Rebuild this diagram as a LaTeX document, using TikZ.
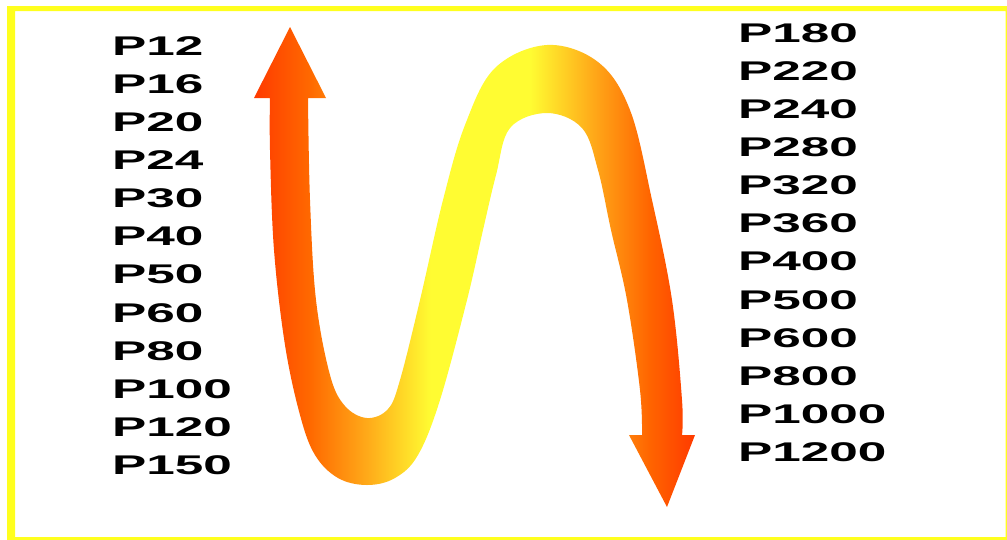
\documentclass[tikz,border=0pt]{standalone}
\usepackage{fontspec}
\newfontfamily\lblfont[FakeStretch=1.9]{Liberation Sans}
\definecolor{frameyellow}{RGB}{255,255,30}
\definecolor{snakeA}{RGB}{255,58,0}
\definecolor{snakeB}{RGB}{255,105,0}
\definecolor{snakeC}{RGB}{255,170,25}
\definecolor{snakeD}{RGB}{255,252,50}
\definecolor{snakeE}{RGB}{255,160,22}
\definecolor{snakeF}{RGB}{255,100,0}
% the path box is fitted to 25bp..75bp of the shading
\pgfdeclarehorizontalshading{snakeshade}{100bp}{color(0bp)=(snakeA); color(25bp)=(snakeA); color(31.35bp)=(snakeB); color(37.8bp)=(snakeC); color(45bp)=(snakeD); color(56.3bp)=(snakeD); color(64.25bp)=(snakeE); color(69.9bp)=(snakeF); color(75bp)=(snakeA); color(100bp)=(snakeA)}
\tikzset{lbl/.style={anchor=west,inner sep=0pt,font=\lblfont\bfseries\fontsize{27}{30}\selectfont}}
\begin{document}
\begin{tikzpicture}[x=1pt,y=-1pt]
    \useasboundingbox (0,0) rectangle (1007,539);
    \fill[frameyellow,even odd rule] (7,6) rectangle (1010,542) (15,11) rectangle (1005.5,537);
    % the snake arrow
    \shade[shading=snakeshade] (290,27) -- (326,98) -- (308,98)
        -- plot[smooth,tension=0.6] coordinates {(308,98) (310,200) (316,300) (330,375) (345,406) (367,418) (388,409) (400,380) (420,300) (443,200) (465,125) (495,68) (547,45) (598,62) (630,110) (652,200) (672,300) (682,400) (682,435)}
        -- (695,435) -- (667,507) -- (629,435) -- (642,435)
        -- plot[smooth,tension=0.6] coordinates {(642,435) (640,390) (627,300) (611,230) (598,170) (582,128) (547,113) (510,128) (496,175) (483,230) (467,300) (440,400) (418,455) (395,478) (367,485) (338,478) (315,455) (300,415) (285,345) (274,250) (270,150) (270,98)}
        -- (254,98) -- cycle;
    % left column
    \node (p12) at (112,46) [lbl] {P12};
    \node (p16) at (112,84.1) [lbl] {P16};
    \node (p20) at (112,122.2) [lbl] {P20};
    \node (p24) at (112,160.3) [lbl] {P24};
    \node (p30) at (112,198.4) [lbl] {P30};
    \node (p40) at (112,236.5) [lbl] {P40};
    \node (p50) at (112,274.6) [lbl] {P50};
    \node (p60) at (112,312.7) [lbl] {P60};
    \node (p80) at (112,350.8) [lbl] {P80};
    \node (p100) at (112,388.9) [lbl] {P100};
    \node (p120) at (112,427) [lbl] {P120};
    \node (p150) at (112,465.1) [lbl] {P150};
    % right column
    \node (p180) at (738,33) [lbl] {P180};
    \node (p220) at (738,71.1) [lbl] {P220};
    \node (p240) at (738,109.2) [lbl] {P240};
    \node (p280) at (738,147.3) [lbl] {P280};
    \node (p320) at (738,185.4) [lbl] {P320};
    \node (p360) at (738,223.5) [lbl] {P360};
    \node (p400) at (738,261.6) [lbl] {P400};
    \node (p500) at (738,299.7) [lbl] {P500};
    \node (p600) at (738,337.8) [lbl] {P600};
    \node (p800) at (738,375.9) [lbl] {P800};
    \node (p1000) at (738,414) [lbl] {P1000};
    \node (p1200) at (738,452.1) [lbl] {P1200};
\end{tikzpicture}
\end{document}
